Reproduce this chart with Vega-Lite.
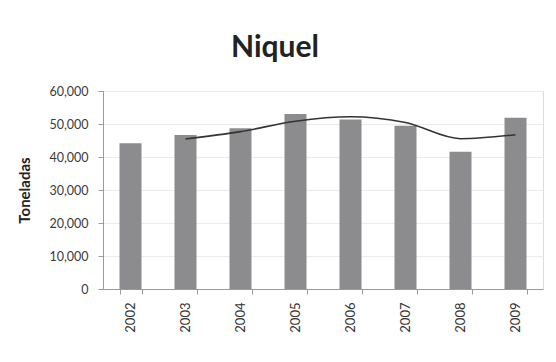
{
  "$schema": "https://vega.github.io/schema/vega-lite/v6.json",
  "autosize": "none",
  "width": 440,
  "height": 198,
  "padding": {"left": 103, "top": 91, "right": 14, "bottom": 73},
  "background": "white",
  "title": {
    "text": "Niquel",
    "font": "Lato",
    "fontSize": 30,
    "fontWeight": "bold",
    "color": "#222222",
    "anchor": "middle",
    "dx": -48,
    "offset": 22
  },
  "config": {
    "axisY": {
      "labelFont": "Lato",
      "labelFontSize": 12.5,
      "labelColor": "#3a3a3a",
      "labelPadding": 10,
      "tickColor": "#9a9a9a",
      "tickSize": 5,
      "domainColor": "#9a9a9a",
      "gridColor": "#ebebeb",
      "titleFont": "Lato",
      "titleFontSize": 15,
      "titleFontWeight": "bold",
      "titleColor": "#222222",
      "titlePadding": 16
    }
  },
  "data": {
    "values": [
      {"ano": "2002", "toneladas": 44200, "media": null},
      {"ano": "2003", "toneladas": 46700, "media": 45450},
      {"ano": "2004", "toneladas": 48700, "media": 47700},
      {"ano": "2005", "toneladas": 53000, "media": 50850},
      {"ano": "2006", "toneladas": 51400, "media": 52200},
      {"ano": "2007", "toneladas": 49500, "media": 50450},
      {"ano": "2008", "toneladas": 41600, "media": 45550},
      {"ano": "2009", "toneladas": 51900, "media": 46750}
    ]
  },
  "encoding": {
    "x": {
      "field": "ano",
      "type": "ordinal",
      "title": null,
      "scale": {"paddingInner": 0.6, "paddingOuter": 0.3},
      "axis": {
        "labelAngle": -90,
        "labelFont": "Lato",
        "labelFontSize": 13,
        "labelColor": "#333333",
        "labelPadding": 8,
        "tickBand": "extent",
        "tickColor": "#9a9a9a",
        "tickSize": 5,
        "domainColor": "#9a9a9a",
        "grid": false
      }
    }
  },
  "layer": [
    {
      "mark": {"type": "bar", "color": "#8c8c8e"},
      "encoding": {
        "y": {
          "field": "toneladas",
          "type": "quantitative",
          "title": "Toneladas",
          "scale": {"domain": [0, 60000]},
          "axis": {"values": [0, 10000, 20000, 30000, 40000, 50000, 60000], "format": ",.0f", "formatType": "number"}
        }
      }
    },
    {
      "transform": [{"filter": "datum.media != null"}],
      "mark": {"type": "line", "color": "#333333", "strokeWidth": 1.6, "interpolate": "monotone"},
      "encoding": {
        "y": {
          "field": "media",
          "type": "quantitative",
          "title": "Toneladas",
          "axis": {"values": [0, 10000, 20000, 30000, 40000, 50000, 60000], "format": ",.0f", "formatType": "number"}
        }
      }
    }
  ]
}
